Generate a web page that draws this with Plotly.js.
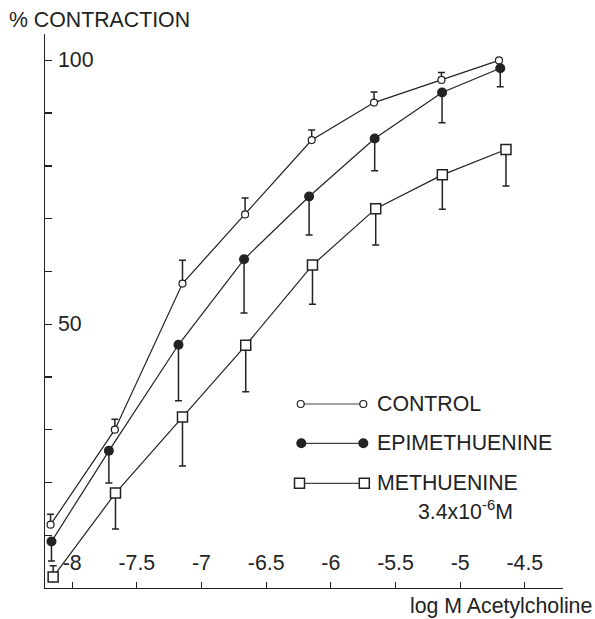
<!DOCTYPE html>
<html>
<head>
<meta charset="utf-8">
<script src="https://cdn.plot.ly/plotly-3.0.1.min.js"></script>
<style>html,body{margin:0;padding:0;background:#fff;}#chart{width:595px;height:619px;}</style>
</head>
<body>
<div id="chart"></div>
<script>
// ---- data ----
var xTickVals  = [-8, -7.5, -7, -6.5, -6, -5.5, -5, -4.5];
var xTickText  = ["-8", "-7.5", "-7", "-6.5", "-6", "-5.5", "-5", "-4.5"];
var yTickVals  = [10, 20, 30, 40, 50, 60, 70, 80, 90, 100];
var yLabelVals = [50, 100];
var yLabelText = ["50", "100"];

var controlX     = [-8.167, -7.670, -7.147, -6.663, -6.148, -5.666, -5.145, -4.700];
var controlY     = [12.0, 30.0, 57.7, 70.8, 84.9, 92.0, 96.3, 100.0];
var controlErrUp = [2.0, 2.0, 4.4, 3.1, 1.9, 2.0, 1.4, 0];

var epiX       = [-8.160, -7.716, -7.178, -6.671, -6.168, -5.661, -5.140, -4.690];
var epiY       = [8.8, 26.0, 46.1, 62.3, 74.2, 85.2, 93.9, 98.5];
var epiErrDown = [3.7, 6.1, 10.6, 10.2, 7.3, 6.1, 5.7, 3.5];

var methX       = [-8.147, -7.665, -7.147, -6.658, -6.142, -5.653, -5.138, -4.646];
var methY       = [2.1, 18.0, 32.4, 46.0, 61.2, 71.9, 78.3, 83.1];
var methErrUp   = [2.1, 0, 0, 0, 0, 0, 0, 0];
var methErrDown = [0, 6.8, 9.3, 8.8, 7.4, 6.9, 6.5, 6.9];

var seriesNames = ["CONTROL", "EPIMETHUENINE", "METHUENINE"];
var concText    = "3.4x10<sup>-6</sup>M";
var xTitle      = "log M Acetylcholine";
var yTitle      = "% CONTRACTION";

// ---- styling ----
var INK = "#222";
var FONT = "Liberation Sans, Arial, Helvetica, sans-serif";
var FS = 21.3;
function zeros(n){ var a=[]; for(var i=0;i<n;i++) a.push(0); return a; }

var W = 595, H = 619, L = 45, R = 32, T = 34, B = 31;
function px(x){ return (x - L) / (W - L - R); }
function py(y){ return (H - B - y) / (H - T - B); }
var txtFont = {family: FONT, size: FS, color: INK};

var lineStyle = {color: INK, width: 1.2};
var errStyle = {thickness: 1.5, color: INK, width: 3.5};

var traces = [
  {x: controlX, y: controlY, mode: "lines+markers", type: "scatter", cliponaxis: false,
   line: lineStyle,
   marker: {symbol: "circle", size: 7, color: "#fff", line: {color: INK, width: 1.2}},
   error_y: Object.assign({type: "data", symmetric: false, array: controlErrUp, arrayminus: zeros(controlErrUp.length)}, errStyle)},
  {x: epiX, y: epiY, mode: "lines+markers", type: "scatter", cliponaxis: false,
   line: lineStyle,
   marker: {symbol: "circle", size: 10, color: INK, line: {color: INK, width: 0}},
   error_y: Object.assign({type: "data", symmetric: false, array: zeros(epiErrDown.length), arrayminus: epiErrDown}, errStyle)},
  {x: methX, y: methY, mode: "lines+markers", type: "scatter", cliponaxis: false,
   line: lineStyle,
   marker: {symbol: "square", size: 10, color: "#fff", line: {color: INK, width: 1.5}},
   error_y: Object.assign({type: "data", symmetric: false, array: methErrUp, arrayminus: methErrDown}, errStyle)}
];

// legend samples drawn on a hidden overlay axis measured in pixels
var legRows = [
  {x: [300.7, 363.3], y: 404.0, marker: traces[0].marker},
  {x: [301.3, 363.3], y: 443.3, marker: {symbol: "circle", size: 10, color: INK}},
  {x: [299.5, 364.3], y: 483.3, marker: traces[2].marker}
];
legRows.forEach(function(r){
  traces.push({x: r.x, y: [r.y, r.y], xaxis: "x2", yaxis: "y2", mode: "lines+markers", type: "scatter",
    cliponaxis: false, hoverinfo: "skip", line: {color: "#444", width: 1.2}, marker: r.marker});
});

var annotations = [
  {xref: "paper", yref: "paper", x: px(7), y: py(20), xanchor: "left", yanchor: "middle",
   text: yTitle, showarrow: false, font: txtFont},
  {xref: "paper", yref: "paper", x: px(594), y: py(606), xanchor: "right", yanchor: "middle",
   text: xTitle, showarrow: false, font: txtFont},
  {xref: "paper", yref: "paper", x: px(375), y: py(404), xanchor: "left", yanchor: "middle",
   text: seriesNames[0], showarrow: false, font: txtFont},
  {xref: "paper", yref: "paper", x: px(375), y: py(443.3), xanchor: "left", yanchor: "middle",
   text: seriesNames[1], showarrow: false, font: txtFont},
  {xref: "paper", yref: "paper", x: px(375), y: py(483.3), xanchor: "left", yanchor: "middle",
   text: seriesNames[2], showarrow: false, font: txtFont},
  {xref: "paper", yref: "paper", x: px(416), y: py(510), xanchor: "left", yanchor: "middle",
   text: concText, showarrow: false, font: txtFont}
];
// y tick labels (left-aligned just inside the axis), positioned through the y scale
yLabelVals.forEach(function(v, i){
  annotations.push({xref: "paper", yref: "y", x: px(56), y: v, xanchor: "left", yanchor: "middle",
    text: yLabelText[i], showarrow: false, font: txtFont});
});

var layout = {
  width: W, height: H,
  margin: {l: L, r: R, t: T, b: B, pad: 0},
  paper_bgcolor: "#fff", plot_bgcolor: "#fff",
  showlegend: false,
  font: {family: FONT, size: FS, color: INK},
  xaxis: {range: [-8.21, -4.205], showline: true, linecolor: INK, linewidth: 1.3,
          ticks: "inside", ticklen: 6, tickwidth: 1.3, tickcolor: INK,
          tickmode: "array", tickvals: xTickVals, ticktext: xTickText,
          ticklabelposition: "inside", ticklabelstandoff: 9,
          showgrid: false, zeroline: false,
          tickfont: txtFont},
  yaxis: {range: [0, 105], showline: true, linecolor: INK, linewidth: 1.3,
          ticks: "inside", ticklen: 7, tickwidth: 1.3, tickcolor: INK,
          tickmode: "array", tickvals: yTickVals, showticklabels: false,
          showgrid: false, zeroline: false},
  xaxis2: {overlaying: "x", range: [L, W - R], visible: false, fixedrange: true},
  yaxis2: {overlaying: "y", range: [H - B, T], visible: false, fixedrange: true},
  annotations: annotations
};

Plotly.newPlot("chart", traces, layout, {staticPlot: true, displayModeBar: false});
</script>
</body>
</html>
